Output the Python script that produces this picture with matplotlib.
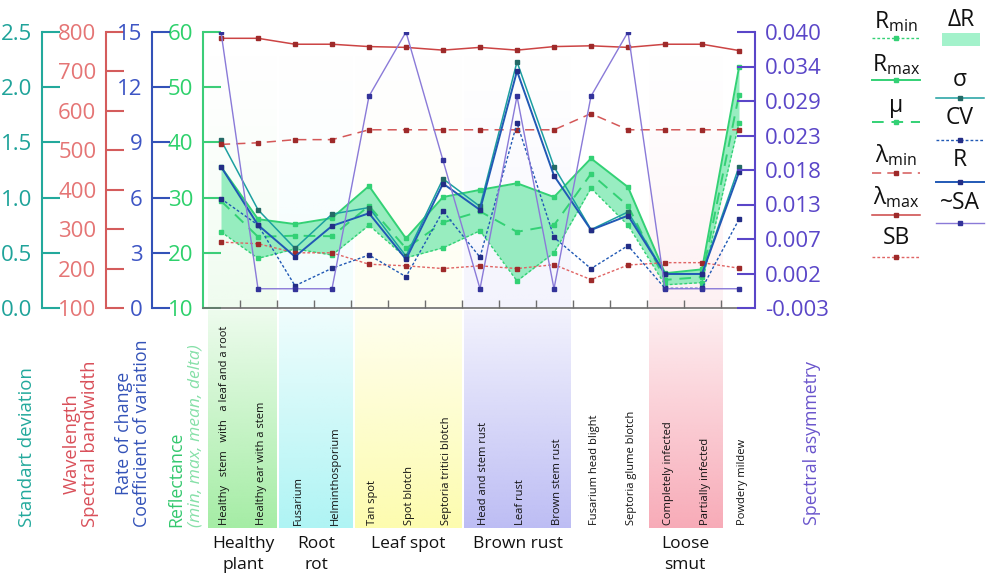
import numpy as np
import matplotlib
matplotlib.use('Agg')
import matplotlib.pyplot as plt
from matplotlib.colors import to_rgb

plt.rcParams['font.family'] = ['Open Sans', 'DejaVu Sans']
plt.rcParams['mathtext.fontset'] = 'custom'
plt.rcParams['mathtext.rm'] = 'Open Sans'
plt.rcParams['mathtext.it'] = 'Open Sans:italic'

# categories
diseases = ['Healthy   stem   with   a leaf and a root', 'Healthy ear with a stem',
            'Fusarium', 'Helminthosporium', 'Tan spot', 'Spot blotch',
            'Septoria tritici blotch', 'Head and stem rust', 'Leaf rust',
            'Brown stem rust', 'Fusarium head blight', 'Septoria glume blotch',
            'Completely infected', 'Partially infected', 'Powdery mildew']
groups = ['Healthy\nplant', 'Root\nrot', 'Leaf spot', 'Brown rust', 'Loose\nsmut']

# reflectance, %
r_max = [35.6, 26.1, 25.2, 26.3, 32.1, 22.6, 30.1, 31.4, 32.6, 30.1, 37.1, 31.9, 16.3, 17.0, 53.6]
r_mean = [29.4, 22.9, 23.1, 23.0, 28.5, 20.8, 25.5, 27.5, 23.8, 25.0, 34.3, 28.5, 15.1, 15.6, 48.6]
r_min = [23.8, 19.0, 20.7, 19.6, 25.0, 19.1, 20.9, 24.0, 14.9, 20.0, 31.7, 25.0, 14.2, 14.6, 43.5]
# wavelength, nm
lam_max = [784, 784, 769, 769, 763, 761, 754, 761, 754, 763, 765, 761, 769, 769, 753]
lam_min = [515, 519, 527, 527, 552, 552, 552, 552, 552, 552, 593, 552, 552, 552, 552]
bandwidth = [267, 263, 240, 240, 211, 207, 200, 207, 200, 210, 172, 209, 215, 215, 201]
# std, rate of change, coefficient of variation
sigma = [1.52, 0.89, 0.54, 0.85, 0.91, 0.47, 1.17, 0.92, 2.23, 1.28, 0.71, 0.87, 0.31, 0.31, 1.28]
rate = [7.68, 4.51, 2.79, 4.46, 5.15, 2.65, 6.76, 5.33, 12.88, 7.19, 4.24, 5.02, 1.85, 1.85, 7.38]
cv = [5.94, 4.51, 1.21, 2.16, 2.88, 1.70, 5.27, 2.76, 10.05, 3.84, 2.14, 3.39, 1.07, 1.07, 4.82]
# spectral asymmetry
sa = [0.040, 0.0, 0.0, 0.0, 0.030, 0.040, 0.020, 0.0, 0.030, 0.0, 0.030, 0.040, 0.0, 0.0, 0.0]
sa_ticklabels = ['-0.003', '0.002', '0.007', '0.013', '0.018', '0.023', '0.029', '0.034', '0.040']

# colours
c_teal, c_teal_l = '#23a99c', '#1fa39a'
c_wl, c_wl_l = '#d45c5c', '#e57575'
c_blue, c_blue_l = '#3352b8', '#3d55c4'
c_green, c_green_l = '#3ccd78', '#2ed16c'
c_purple = '#5a46c8'
c_red_line, c_red_mk = '#cc4444', '#9e2a2a'
c_g = '#33d175'
c_fill = '#7fe9b2'
c_sig, c_sig_mk = '#1c9fa0', '#246a66'
c_r, c_r_mk = '#2159b5', '#232d86'
c_sa, c_sa_mk = '#8a7ad8', '#33339a'

W, H = 986, 582
def fx(px): return px / W
def fy(py): return 1 - py / H

X0, X1, YT, YB = 203, 755, 32, 308
x = np.arange(len(diseases))
xlim = ((X0 - 221) / 37, (X1 - 221) / 37)

fig = plt.figure(figsize=(W / 100, H / 100), dpi=100)
ax = fig.add_axes([fx(X0), fy(YB), fx(X1) - fx(X0), fy(YT) - fy(YB)])
ax.patch.set_alpha(0)

# band spans: (left, right, colour)
bands = [(-0.35, 1.5, '#9beb9b'), (1.57, 3.55, '#a6f3f3'), (3.62, 6.5, '#fdfca6'),
         (6.58, 9.45, '#b6b6f3'), (11.56, 13.55, '#f7a2b0')]
grad = np.linspace(0, 1, 100)[:, None]
for a, b, c in bands:
    img = np.zeros((100, 1, 4))
    img[..., :3] = to_rgb(c)
    img[..., 3] = 0.16 * grad ** 1.5
    ax.imshow(img, extent=(a, b, 10, 60), aspect='auto', zorder=0, interpolation='bilinear')

ax.set_xlim(*xlim)
ax.set_ylim(10, 60)
for s in ['top', 'right']:
    ax.spines[s].set_visible(False)
ax.spines['left'].set_color(c_green)
ax.spines['left'].set_linewidth(1.5)
ax.spines['bottom'].set_color('#6d6d6d')
ax.spines['bottom'].set_linewidth(1.2)
ax.set_xticks(x[:-1] + 0.5)
ax.set_xticklabels([])
ax.tick_params(axis='x', direction='in', length=6, color='#6d6d6d', width=1)
ax.set_yticks(np.arange(10, 61, 10))
ax.tick_params(axis='y', direction='in', length=13, width=1.5, color=c_green,
               labelcolor=c_green_l, labelsize=16, pad=7)

ax.fill_between(x, r_min, r_max, color=c_fill, alpha=0.8, lw=0, zorder=1)
mk = dict(marker='s', markersize=3.5)
ax.plot(x, r_max, color=c_g, lw=1.4, mfc=c_g, mec=c_g, zorder=3, **mk)
ax.plot(x, r_mean, color=c_g, lw=1.4, ls=(0, (6, 4)), mfc=c_g, mec=c_g, zorder=3, **mk)
ax.plot(x, r_min, color=c_g, lw=1.0, ls=(0, (2, 1.5)), mfc=c_g, mec=c_g, zorder=3, **mk)


def side_axis(px, color, lcolor, lim, ticks, labels, side='left'):
    t = ax.twinx()
    t.set_ylim(*lim)
    t.set_xlim(*xlim)
    for s in t.spines.values():
        s.set_visible(False)
    sp = t.spines[side]
    sp.set_visible(True)
    sp.set_position(('axes', (px - X0) / (X1 - X0)))
    sp.set_color(color)
    sp.set_linewidth(1.5)
    t.yaxis.set_ticks_position(side)
    t.yaxis.set_label_position(side)
    t.set_yticks(ticks)
    t.set_yticklabels(labels)
    t.tick_params(axis='y', direction='in', length=13, width=1.5, color=color,
                  labelcolor=lcolor, labelsize=16, pad=7)
    return t


std_ticks = np.arange(0, 2.51, 0.5)
ax_std = side_axis(42, c_teal, c_teal_l, (0, 2.5), std_ticks, ['%.1f' % v for v in std_ticks])
wl_ticks = np.arange(100, 801, 100)
ax_wl = side_axis(106, c_wl, c_wl_l, (100, 800), wl_ticks, ['%d' % v for v in wl_ticks])
rt_ticks = np.arange(0, 16, 3)
ax_rt = side_axis(152, c_blue, c_blue_l, (0, 15), rt_ticks, ['%d' % v for v in rt_ticks])
sa_ticks = np.linspace(-0.003, 0.040, 9)
ax_sa = side_axis(X1, c_purple, c_purple, (-0.003, 0.040), sa_ticks, sa_ticklabels, side='right')

ax_wl.plot(x, lam_max, color=c_red_line, lw=1.1, mfc=c_red_mk, mec=c_red_mk, **mk)
ax_wl.plot(x, lam_min, color='#d45858', lw=1.1, ls=(0, (6, 4)), mfc=c_red_mk, mec=c_red_mk, **mk)
ax_wl.plot(x, bandwidth, color='#e06464', lw=1.0, ls=(0, (2, 1.5)), mfc=c_red_mk, mec=c_red_mk, **mk)
ax_std.plot(x, sigma, color=c_sig, lw=1.1, mfc=c_sig_mk, mec=c_sig_mk, **mk)
ax_rt.plot(x, cv, color=c_r, lw=1.0, ls=(0, (2, 1.5)), mfc=c_r_mk, mec=c_r_mk, **mk)
ax_rt.plot(x, rate, color=c_r, lw=1.4, mfc=c_r_mk, mec=c_r_mk, **mk)
ax_sa.plot(x, sa, color=c_sa, lw=1.0, mfc=c_sa_mk, mec=c_sa_mk, **mk)

# coloured group strips under the axis with the disease names
bx = fig.add_axes([fx(X0), fy(528), fx(X1) - fx(X0), fy(YB + 2) - fy(528)])
bx.axis('off')
for a, b, c in bands:
    img = np.zeros((100, 1, 4))
    img[..., :3] = to_rgb(c)
    img[..., 3] = 0.18 + 0.72 * grad
    bx.imshow(img, extent=(a, b, 0, 1), aspect='auto', interpolation='bilinear')
bx.set_xlim(*xlim)
bx.set_ylim(0, 1)
for i, name in enumerate(diseases):
    bx.text(i + 0.1, 0.012, name, rotation=90, ha='center', va='bottom', fontsize=8, color='#111111')

# overlay in pixel coordinates for titles and legend
ov = fig.add_axes([0, 0, 1, 1])
ov.set_xlim(0, W)
ov.set_ylim(H, 0)
ov.axis('off')

group_x = [243, 316, 408, 518, 685]
for gx, g in zip(group_x, groups):
    ov.text(gx, 536, g, ha='center', va='top', fontsize=12.5, color='#111111', linespacing=1.4)

ttl = dict(rotation=90, ha='center', va='bottom', fontsize=12.8, linespacing=1.0)
ov.text(27, 527, 'Standart deviation', color=c_teal, **{**ttl, 'fontsize': 13.4})
ov.text(81, 527, 'Wavelength\nSpectral bandwidth', color='#d9505a', **{**ttl, 'fontsize': 13.2})
ov.text(133, 527, 'Rate of change\nCoefficient of variation', color=c_blue, **ttl)
ov.text(176, 527, 'Reflectance', color='#34c86e', **ttl)
ov.text(195, 527, '(min, max, mean, delta)', color='#86e0a8', style='italic',
        **{**ttl, 'fontsize': 12.6})
ov.text(812, 525, 'Spectral asymmetry', color='#6a55cc', **ttl)

# legend
leg = [
    (896, r'$\mathregular{R_{min}}$', 22, 38, dict(color=c_g, ls=(0, (2, 1.5)), lw=1.0), c_g),
    (896, r'$\mathregular{R_{max}}$', 65, 80, dict(color=c_g, lw=1.4), c_g),
    (896, 'μ', 106, 122, dict(color=c_g, ls=(0, (6, 4)), lw=1.4), c_g),
    (896, r'$\mathregular{λ_{min}}$', 155, 173, dict(color='#d45858', ls=(0, (6, 4)), lw=1.1), c_red_mk),
    (896, r'$\mathregular{λ_{max}}$', 197, 215, dict(color=c_red_line, lw=1.1), c_red_mk),
    (896, 'SB', 238, 257, dict(color='#e06464', ls=(0, (2, 1.5)), lw=1.0), c_red_mk),
    (960, 'σ', 80, 98, dict(color=c_sig, lw=1.1), c_sig_mk),
    (960, 'CV', 118, 140, dict(color=c_r, ls=(0, (2, 1.5)), lw=1.0), c_r_mk),
    (960, 'R', 160, 182, dict(color=c_r, lw=1.4), c_r_mk),
    (960, '~SA', 203, 223, dict(color=c_sa, lw=1.0), c_sa_mk),
]
for cx, label, ty, ly, style, mc in leg:
    ov.text(cx, ty, label, ha='center', va='center', fontsize=16.5, color='#111111')
    half = 24
    ov.plot([cx - half, cx, cx + half], [ly, ly, ly], marker='s', markersize=3.5,
            markevery=[1], mfc=mc, mec=mc, clip_on=False, **style)
ov.text(961, 20, 'ΔR', ha='center', va='center', fontsize=16.5, color='#111111')
ov.add_patch(plt.Rectangle((942, 33), 38, 13, color='#a3f2cb', lw=0))

fig.savefig('out.png', dpi=100)
